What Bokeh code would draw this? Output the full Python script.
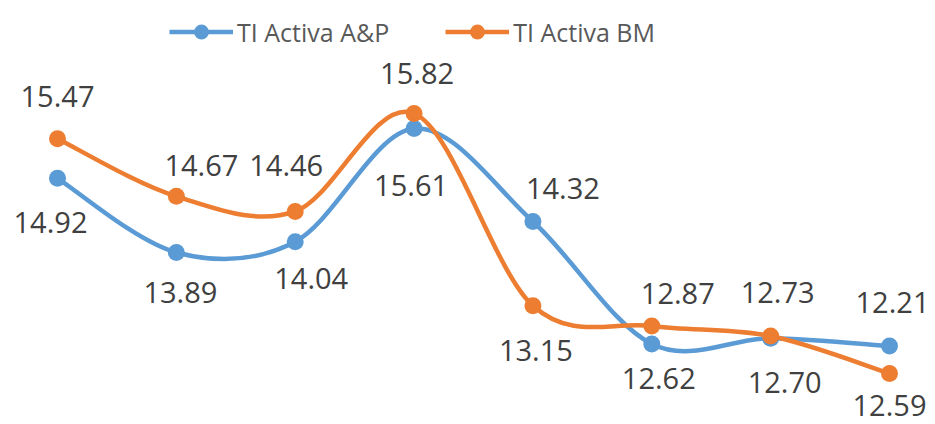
from bokeh.plotting import figure
from bokeh.models import Range1d, ColumnDataSource, Legend, LegendItem
from bokeh.core.properties import value
from bokeh.embed import file_html
from bokeh.resources import INLINE

# ---- data ----
positions = [0, 1, 2, 3, 4, 5, 6, 7]
series_names = ["TI Activa A&P", "TI Activa BM"]
ap_values = [14.92, 13.89, 14.04, 15.61, 14.32, 12.62, 12.70, 12.59]
bm_values = [15.47, 14.67, 14.46, 15.82, 13.15, 12.87, 12.73, 12.21]

# ---- label placement (screen pixels relative to each point) ----
ap_dx = [-7, 4, 16, -3, 30, 7, 14, 0]
ap_dy = [44, 40, 37, 57, -33, 35, 44, 59]
bm_dx = [0, 25, -9, 3, 3, 26, 7, 3]
bm_dy = [-42, -31, -46, -40, 45, -32, -43, -71]

BLUE = "#5B9BD5"
ORANGE = "#ED7D31"
W, H = 935, 424


def smooth_segments(xs, ys):
    """Catmull-Rom style Bezier control points (Excel-like smoothing)."""
    n = len(xs)
    seg = dict(x0=[], y0=[], x1=[], y1=[], cx0=[], cy0=[], cx1=[], cy1=[])
    for i in range(n - 1):
        ip = max(i - 1, 0)
        inn = min(i + 2, n - 1)
        seg["x0"].append(xs[i]); seg["y0"].append(ys[i])
        seg["x1"].append(xs[i + 1]); seg["y1"].append(ys[i + 1])
        seg["cx0"].append(xs[i] + (xs[i + 1] - xs[ip]) / 6.0)
        seg["cy0"].append(ys[i] + (ys[i + 1] - ys[ip]) / 6.0)
        seg["cx1"].append(xs[i + 1] - (xs[inn] - xs[i]) / 6.0)
        seg["cy1"].append(ys[i + 1] - (ys[inn] - ys[i]) / 6.0)
    return seg


p = figure(width=W, height=H, output_backend="svg", toolbar_location=None,
           x_range=Range1d(-0.4796, 7.387), y_range=Range1d(11.501, 17.389),
           min_border=0)
p.axis.visible = False
p.grid.visible = False
p.outline_line_color = None
p.background_fill_color = "white"
p.border_fill_color = "white"

renderers = []
for vals, color in ((ap_values, BLUE), (bm_values, ORANGE)):
    src = ColumnDataSource(smooth_segments(positions, vals))
    bz = p.bezier(x0="x0", y0="y0", x1="x1", y1="y1", cx0="cx0", cy0="cy0",
                  cx1="cx1", cy1="cy1", source=src, line_color=color, line_width=4.5)
    sc = p.scatter(positions, vals, size=17, fill_color=color, line_color=color,
                   line_width=0)
    renderers.append((bz, sc))

for vals, dx, dy in ((ap_values, ap_dx, ap_dy), (bm_values, bm_dx, bm_dy)):
    src = ColumnDataSource(dict(x=positions, y=vals,
                                t=["%.2f" % v for v in vals], dx=dx, dy=dy))
    p.text(x="x", y="y", text="t", x_offset="dx", y_offset="dy", source=src,
           text_align="center", text_baseline="middle",
           text_font=value("Open Sans"), text_font_size="29px",
           text_color="#404040")

legend = Legend(
    items=[LegendItem(label=series_names[0], renderers=list(renderers[0])),
           LegendItem(label=series_names[1], renderers=list(renderers[1]))],
    orientation="horizontal", location=(169, 374),
    glyph_width=64, glyph_height=37, label_standoff=4, spacing=56,
    padding=0, margin=0, border_line_color=None, background_fill_alpha=0,
    label_text_font="Open Sans", label_text_font_size="25px",
    label_text_color="#595959", label_height=37)
p.add_layout(legend)

open("out.html", "w").write(file_html(p, INLINE))
